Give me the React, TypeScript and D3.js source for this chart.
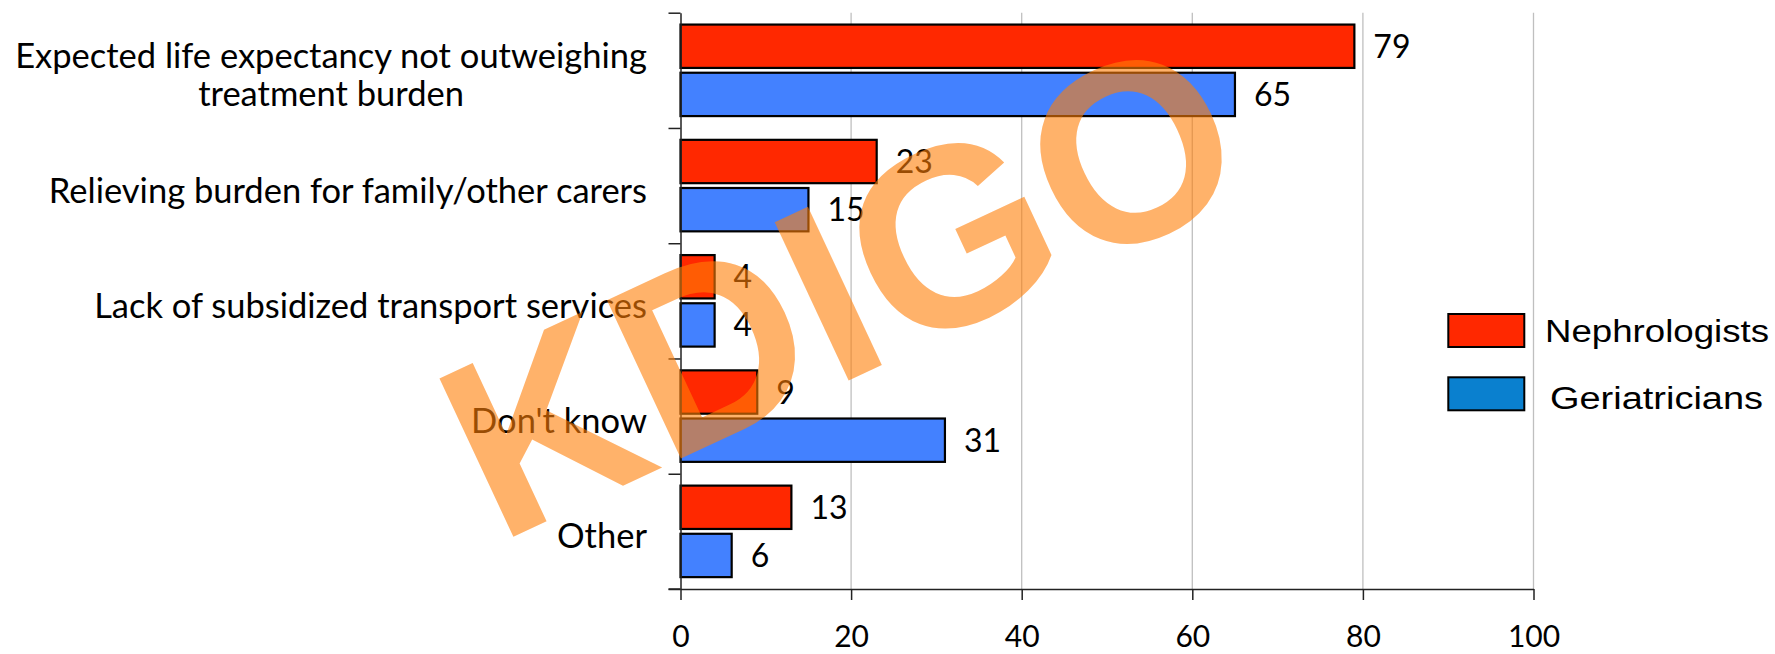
import React, { useEffect, useRef } from "react";
import * as d3 from "d3";

// categories (first one wraps on two lines)
const categories = [
  "Expected life expectancy not outweighing|treatment burden",
  "Relieving burden for family/other carers",
  "Lack of subsidized transport services",
  "Don't know",
  "Other",
];
const seriesNames = ["Nephrologists", "Geriatricians"];
const nephrologists = [79, 23, 4, 9, 13];
const geriatricians = [65, 15, 4, 31, 6];
const xTicks = [0, 20, 40, 60, 80, 100];
const barColors = ["#ff2800", "#4381ff"];
const legendColors = ["#ff2800", "#0a80cf"];
const watermark = "KDIGO";

const App = () => {
  const svgRef = useRef<SVGSVGElement>(null);

  useEffect(() => {
    document.body.style.margin = "0";
    const svg = d3.select(svgRef.current);
    svg.selectAll("*").remove();

    const width = 1775;
    const height = 654;
    const plot = { left: 680.5, right: 1533.5, top: 12.7, bottom: 589 };
    const labelFont = "Lato, 'Open Sans', sans-serif";

    svg.attr("width", width).attr("height", height);

    const x = d3.scaleLinear().domain([0, 100]).range([plot.left, plot.right]);
    const y = d3
      .scaleBand()
      .domain(categories)
      .range([plot.top, plot.bottom])
      .padding(0);
    const bw = y.bandwidth();
    const inner = d3
      .scaleBand()
      .domain(seriesNames)
      .range([bw * 0.103, bw * 0.897])
      .paddingInner(0.1);

    // gridlines
    svg
      .append("g")
      .selectAll("line")
      .data(xTicks.filter((d) => d > 0))
      .join("line")
      .attr("x1", (d) => x(d))
      .attr("x2", (d) => x(d))
      .attr("y1", plot.top)
      .attr("y2", plot.bottom)
      .attr("stroke", "#bfbfbf")
      .attr("stroke-width", 1.3);

    // bars
    const data = categories.map((c, i) => ({
      cat: c,
      vals: [nephrologists[i], geriatricians[i]],
    }));
    const groups = svg
      .append("g")
      .selectAll("g")
      .data(data)
      .join("g")
      .attr("transform", (d) => `translate(0,${y(d.cat)})`);

    groups
      .selectAll("rect")
      .data((d) => d.vals.map((v, k) => ({ v, k })))
      .join("rect")
      .attr("x", x(0))
      .attr("y", (d) => inner(seriesNames[d.k])!)
      .attr("width", (d) => x(d.v) - x(0))
      .attr("height", inner.bandwidth())
      .attr("fill", (d) => barColors[d.k])
      .attr("stroke", "#000")
      .attr("stroke-width", 2.2);

    // value labels
    groups
      .selectAll("text")
      .data((d) => d.vals.map((v, k) => ({ v, k })))
      .join("text")
      .attr("x", (d) => x(d.v) + 19)
      .attr("y", (d) => inner(seriesNames[d.k])! + inner.bandwidth() / 2 + 11.5)
      .style("font-family", labelFont)
      .style("font-size", "32px")
      .attr("fill", "#000")
      .text((d) => d.v);

    // y axis (category boundaries)
    const yEdges = d3
      .scaleLinear()
      .domain([0, categories.length])
      .range([plot.top, plot.bottom]);
    svg
      .append("g")
      .attr("transform", `translate(${plot.left},0)`)
      .call(
        d3.axisLeft(yEdges).tickValues(d3.range(0, categories.length + 1)).tickSize(12).tickSizeOuter(0).tickFormat(() => "")
      )
      .call((g) => g.selectAll("line,path").attr("stroke", "#222").attr("stroke-width", 1.5));

    // x axis
    const xAxis = svg
      .append("g")
      .attr("transform", `translate(0,${plot.bottom})`)
      .call(d3.axisBottom(x).tickValues(xTicks).tickSize(11).tickSizeOuter(0).tickPadding(26));
    xAxis.selectAll("line,path").attr("stroke", "#222").attr("stroke-width", 1.5);
    xAxis
      .selectAll("text")
      .style("font-family", labelFont)
      .style("font-size", "30px")
      .attr("fill", "#000");
    xAxis
      .append("line")
      .attr("x1", plot.left - 12)
      .attr("x2", plot.left)
      .attr("stroke", "#222")
      .attr("stroke-width", 1.5);

    // category labels
    const labelRight = 647;
    categories.forEach((c) => {
      const lines = c.split("|");
      const cy = y(c)! + bw / 2 + 17;
      const lineGap = 38;
      const t0 = svg
        .append("text")
        .attr("x", labelRight)
        .attr("y", cy - ((lines.length - 1) * lineGap) / 2)
        .attr("text-anchor", "end")
        .style("font-family", labelFont)
        .style("font-size", "34.5px")
        .attr("fill", "#000")
        .text(lines[0]);
      if (lines.length > 1) {
        const w = (t0.node() as SVGTextElement).getComputedTextLength();
        svg
          .append("text")
          .attr("x", labelRight - w / 2)
          .attr("y", cy + lineGap / 2)
          .attr("text-anchor", "middle")
          .style("font-family", labelFont)
          .style("font-size", "34.5px")
          .attr("fill", "#000")
          .text(lines[1]);
      }
    });

    // legend
    const legend = svg.append("g");
    const legendBoxY = [314, 377.3];
    const legendTextX = [1545, 1550];
    const legendTextW = [224, 213];
    const legendBase = [342, 409];
    seriesNames.forEach((s, i) => {
      legend
        .append("rect")
        .attr("x", 1448.3)
        .attr("y", legendBoxY[i])
        .attr("width", 76)
        .attr("height", 33)
        .attr("fill", legendColors[i])
        .attr("stroke", "#000")
        .attr("stroke-width", 2);
      legend
        .append("text")
        .attr("x", legendTextX[i])
        .attr("y", legendBase[i])
        .attr("textLength", legendTextW[i])
        .attr("lengthAdjust", "spacingAndGlyphs")
        .style("font-family", "'Liberation Sans', Arial, sans-serif")
        .style("font-size", "31px")
        .attr("fill", "#000")
        .text(s);
    });

    // watermark over everything
    svg
      .append("text")
      .attr("transform", "translate(498,544) rotate(-25)")
      .style("font-family", "'Liberation Sans', Arial, sans-serif")
      .style("font-weight", "bold")
      .style("font-size", "254px")
      .style("letter-spacing", "1.5px")
      .attr("fill", "rgb(255,127,8)")
      .attr("opacity", 0.6)
      .text(watermark);
  }, []);

  return <svg ref={svgRef} style={{ display: "block" }} />;
};

export default App;
